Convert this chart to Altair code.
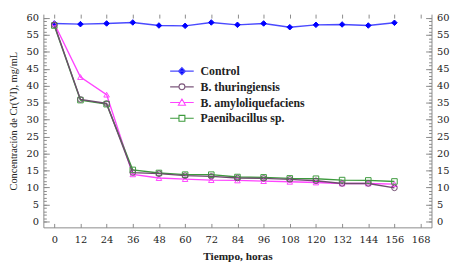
import altair as alt
import pandas as pd

tiempo = [0, 12, 24, 36, 48, 60, 72, 84, 96, 108, 120, 132, 144, 156]
control = [58.4, 58.2, 58.4, 58.7, 57.8, 57.7, 58.7, 58.0, 58.4, 57.3, 58.0, 58.1, 57.8, 58.6]
thuringiensis = [58.0, 36.0, 34.8, 14.4, 14.1, 13.5, 13.3, 12.8, 12.7, 12.4, 12.0, 11.2, 11.2, 9.9]
amyloliquefaciens = [58.4, 42.6, 37.4, 13.9, 12.8, 12.5, 12.2, 12.1, 11.9, 11.7, 11.5, 11.2, 11.2, 11.0]
paenibacillus = [57.8, 35.8, 34.6, 15.2, 14.3, 13.8, 13.8, 13.1, 13.0, 12.7, 12.6, 12.2, 12.1, 11.8]

series = ["Control", "B. thuringiensis", "B. amyloliquefaciens", "Paenibacillus sp."]
draw_order = ["Control", "B. amyloliquefaciens", "Paenibacillus sp.", "B. thuringiensis"]
x_ticks = list(range(0, 169, 12))
y_ticks = list(range(0, 61, 5))
y_minor = list(range(0, 61, 1))

line_colors = ["#4a4aff", "#6e4a6e", "#ff44ff", "#3d9a3d"]
marker_colors = ["#0000ff", "#6e4a6e", "#ff44ff", "#3d9a3d"]
legend_colors = ["#4a4aff", "#7d587d", "#ff44ff", "#3d9a3d"]
marker_shapes = ["diamond", "circle", "triangle-up", "square"]
marker_fills = ["#0000ff", "transparent", "transparent", "transparent"]
legend_paths = [
    "M-2,0H2M0,-0.6L0.6,0L0,0.6L-0.6,0Z",
    "M-2,0H-0.5M0.5,0H2M0.5,0A0.5,0.5,0,1,1,-0.5,0A0.5,0.5,0,1,1,0.5,0Z",
    "M-2,0H-0.34M0.34,0H2M0,-0.6L0.6,0.44L-0.6,0.44Z",
    "M-2,0H-0.5M0.5,0H2M-0.5,-0.5H0.5V0.5H-0.5Z",
]

values_by_series = dict(zip(series, [control, thuringiensis, amyloliquefaciens, paenibacillus]))
rows = []
for name in draw_order:
    for t, v in zip(tiempo, values_by_series[name]):
        rows.append({"Tiempo": t, "Conc": v, "Serie": name})
df = pd.DataFrame(rows)

W, H = 395, 217
xscale = alt.Scale(domain=[-5, 173], nice=False, zero=False)
yscale = alt.Scale(domain=[-1.75, 61.15], nice=False, zero=False)

TICKFONT = "DejaVu Serif"
LBL = dict(labelFont=TICKFONT, labelFontSize=10, labelColor="#222222")
AX = dict(grid=False, tickColor="#8a8a8a", domainColor="#8a8a8a", domainWidth=1, tickWidth=1)

x_main = alt.Axis(orient="bottom", values=x_ticks, tickSize=0, labelPadding=7,
                  title="Tiempo, horas", titleFont="Liberation Serif", titleFontSize=11.5,
                  titleFontWeight="bold", titleColor="#222222", titlePadding=7, **LBL, **AX)
y_main = alt.Axis(orient="left", values=y_ticks, tickSize=0, labelPadding=5,
                  title="Concentración de Cr(VI), mg/mL", titleFont="Liberation Serif",
                  titleFontSize=10.5, titleFontWeight="normal", titleColor="#222222",
                  titlePadding=8, **LBL, **AX)
y_right = alt.Axis(orient="right", values=y_ticks, tickSize=0, labelPadding=5, title=None,
                   **LBL, **AX)

def tick_axis(orient, offset, values, size):
    return alt.Axis(orient=orient, offset=offset, values=values, tickSize=size, labels=False,
                    domain=False, title=None, **AX)

base = alt.Chart(df)

lines = base.mark_line(strokeWidth=1.4).encode(
    x=alt.X("Tiempo:Q", scale=xscale, axis=x_main),
    y=alt.Y("Conc:Q", scale=yscale, axis=y_main),
    color=alt.Color("Serie:N", scale=alt.Scale(domain=series, range=line_colors), legend=None),
)

points = base.mark_point(filled=False, size=32, strokeWidth=1, opacity=1).encode(
    x=alt.X("Tiempo:Q", scale=xscale, axis=None),
    y=alt.Y("Conc:Q", scale=yscale, axis=y_right),
    color=alt.Color("Serie:N", scale=alt.Scale(domain=series, range=marker_colors), legend=None),
    shape=alt.Shape("Serie:N", scale=alt.Scale(domain=series, range=marker_shapes), legend=None),
    fill=alt.Fill("Serie:N", scale=alt.Scale(domain=series, range=marker_fills), legend=None),
)

legend_layer = base.transform_filter("false").mark_point(filled=False, size=144, strokeWidth=1.1, opacity=1).encode(
    x=alt.X("Tiempo:Q", scale=xscale, axis=None),
    y=alt.Y("Conc:Q", scale=yscale, axis=None),
    color=alt.Color("Serie:N", scale=alt.Scale(domain=series, range=legend_colors), legend=alt.Legend(title=None)),
    shape=alt.Shape("Serie:N", scale=alt.Scale(domain=series, range=legend_paths), legend=alt.Legend(title=None)),
    fill=alt.Fill("Serie:N", scale=alt.Scale(domain=series, range=marker_fills), legend=alt.Legend(title=None)),
)

def axis_layer(xaxis, yaxis):
    return base.mark_point(opacity=0).encode(
        x=alt.X("Tiempo:Q", scale=xscale, axis=xaxis),
        y=alt.Y("Conc:Q", scale=yscale, axis=yaxis),
    )

ax1 = axis_layer(tick_axis("top", -H, x_ticks, 4), tick_axis("right", -W, y_ticks, 6))
ax2 = axis_layer(tick_axis("bottom", -H, x_ticks, 4), tick_axis("right", -W, y_minor, 3))
ax3 = axis_layer(None, tick_axis("left", -W, y_ticks, 6))
ax4 = axis_layer(None, tick_axis("left", -W, y_minor, 3))

chart = alt.layer(ax1, ax2, ax3, ax4, lines, points, legend_layer).resolve_scale(
    color="independent", shape="independent", fill="independent"
).resolve_axis(x="independent", y="independent").properties(
    width=W, height=H,
    autosize=alt.AutoSizeParams(type="none"),
    padding={"left": 36, "top": 4, "right": 30, "bottom": 34},
).configure_view(stroke="transparent").configure_legend(
    orient="none", legendX=134, legendY=51, padding=0,
    labelFont="Liberation Serif", labelFontSize=12, labelFontWeight="bold",
    labelColor="#222222", labelOffset=12, rowPadding=3, symbolStrokeWidth=1.1,
    symbolSize=144,
)

chart.save("out.html", embed_options={"renderer": "svg", "actions": False})
